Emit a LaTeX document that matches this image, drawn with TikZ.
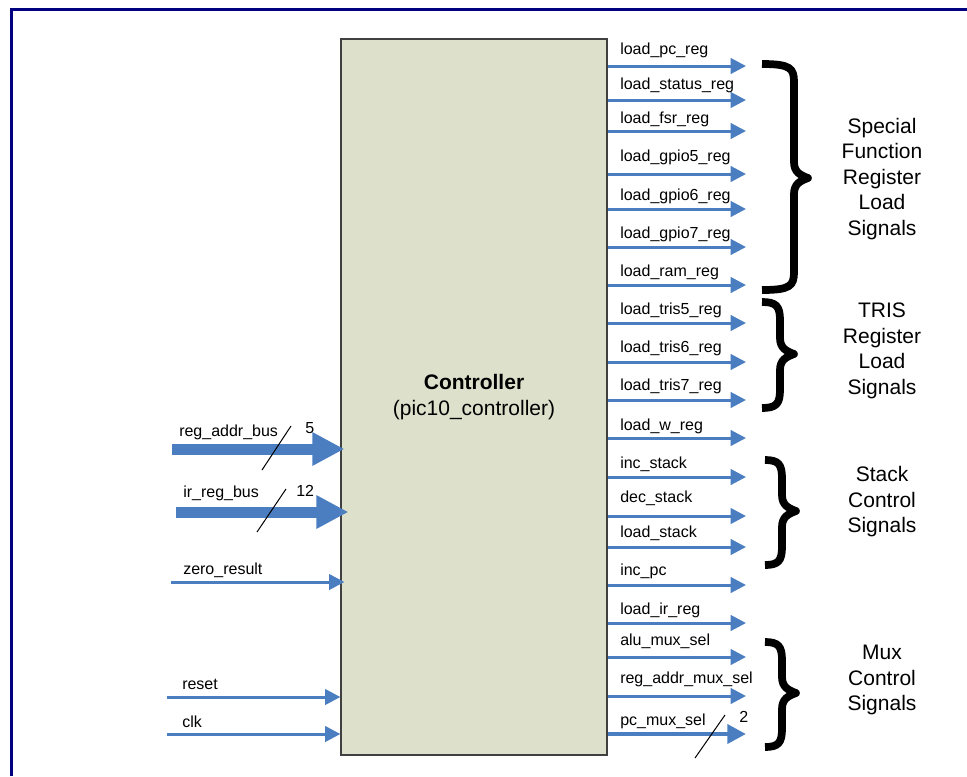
\documentclass[tikz,border=0pt]{standalone}
\usepackage{fontspec}
\setmainfont{Liberation Sans}
\usetikzlibrary{arrows.meta}
\definecolor{navyframe}{RGB}{0,0,128}
\definecolor{sigblue}{RGB}{74,126,193}
\definecolor{boxfill}{RGB}{221,224,203}
\definecolor{boxline}{RGB}{64,64,64}
\tikzset{
  sig/.style={draw=sigblue, line width=2.25pt, -{Triangle[length=11.5pt,width=11.5pt]}},
  bus/.style={draw=sigblue, line width=8.25pt, -{Triangle[length=24pt,width=23.5pt]}},
  wbus/.style={draw=sigblue, line width=3.4pt, -{Triangle[length=14pt,width=14pt]}},
  siglabel/.style={font=\fontsize{12}{14}\selectfont, inner sep=0pt, anchor=base west},
  grouplabel/.style={font=\fontsize{15.75}{19.1}\selectfont, align=center, inner sep=0pt},
  bracestroke/.style={draw=black, line width=5.8pt, line join=round},
  slash/.style={draw=black, line width=0.75pt},
}
\newcommand\sigbrace[6]{%
  \draw[bracestroke] (#1,#2) .. controls ({#4-4},#2) and (#4,{#2+4}) .. (#4,{#2+18})
    -- (#4,{#6-16}) .. controls (#4,{#6-6}) and ({#5-8},{#6-3}) .. (#5,#6)
    .. controls ({#5-8},{#6+3}) and (#4,{#6+6}) .. (#4,{#6+16})
    -- (#4,{#3-18}) .. controls (#4,{#3-4}) and ({#4-4},#3) .. (#1,#3);}
\begin{document}
\begin{tikzpicture}[x=0.75pt,y=-0.75pt]
\useasboundingbox (0,0) rectangle (967,776);
\draw[navyframe, line width=2.25pt] (11.5,776) -- (11.5,9.5) -- (967,9.5);

\node[draw=boxline, fill=boxfill, line width=0.9pt, minimum width=199.5pt,
      minimum height=537pt, inner sep=0pt, align=center,
      font=\fontsize{15.75}{19.5}\selectfont] (ctrl) at (474,397)
      {\textbf{Controller}\\(pic10\_controller)};

% left inputs
\coordinate (a1) at (172,449);
\draw[bus, shorten >=-3pt] (a1) -- (a1 -| ctrl.west);
\node[siglabel] (la1) at (179,436) {reg\_addr\_bus};
\draw[slash] (262,470) -- (291,426);
\node[siglabel] (n5) at (305,433) {5};

\coordinate (a2) at (176,512);
\draw[bus, shorten >=-6pt] (a2) -- (a2 -| ctrl.west);
\node[siglabel] (la2) at (183,497) {ir\_reg\_bus};
\draw[slash] (257,532) -- (286,489);
\node[siglabel] (n12) at (296,496) {12};

\coordinate (a3) at (171,582);
\draw[sig, shorten >=-3pt] (a3) -- (a3 -| ctrl.west);
\node[siglabel] (la3) at (183,574) {zero\_result};

\coordinate (a4) at (167,697);
\draw[sig] (a4) -- (a4 -| ctrl.west);
\node[siglabel] (la4) at (182,689) {reset};

\coordinate (a5) at (167,734);
\draw[sig] (a5) -- (a5 -| ctrl.west);
\node[siglabel] (la5) at (182,727) {clk};

% right outputs
\foreach \ya/\yb/\txt [count=\i] in {
  66/54/load\_pc\_reg,
  100/89/load\_status\_reg,
  131/123/load\_fsr\_reg,
  174/161/load\_gpio5\_reg,
  209/200/load\_gpio6\_reg,
  247/238/load\_gpio7\_reg,
  285/276/load\_ram\_reg,
  323/314/load\_tris5\_reg,
  362/352/load\_tris6\_reg,
  400/390/load\_tris7\_reg,
  438/430/load\_w\_reg,
  477/468/inc\_stack,
  516/502/dec\_stack,
  547/537/load\_stack,
  585/575/inc\_pc,
  623/614/load\_ir\_reg,
  657/645/alu\_mux\_sel,
  696/683/reg\_addr\_mux\_sel}{
  \coordinate (o\i) at (746,\ya);
  \draw[sig] (o\i -| ctrl.east) -- (o\i);
  \node[siglabel] (l\i) at (620,\yb) {\txt};
}
\coordinate (o19) at (746,734);
\draw[wbus] (o19 -| ctrl.east) -- (o19);
\node[siglabel] (l19) at (620,725) {pc\_mux\_sel};
\draw[slash] (695,758) -- (725,715);
\node[siglabel] (n2) at (739,722) {2};

% braces
\sigbrace{762}{64}{290}{794}{808}{178}
\sigbrace{762}{302}{408}{780}{794}{354}
\sigbrace{765}{460}{565}{782}{796}{511}
\sigbrace{765}{642}{747}{782}{796}{693}

\node[grouplabel] (g1) at (882,179) {Special\\Function\\Register\\Load\\Signals};
\node[grouplabel] (g2) at (882,351) {TRIS\\Register\\Load\\Signals};
\node[grouplabel] (g3) at (882,502) {Stack\\Control\\Signals};
\node[grouplabel] (g4) at (882,680) {Mux\\Control\\Signals};
\end{tikzpicture}
\end{document}
